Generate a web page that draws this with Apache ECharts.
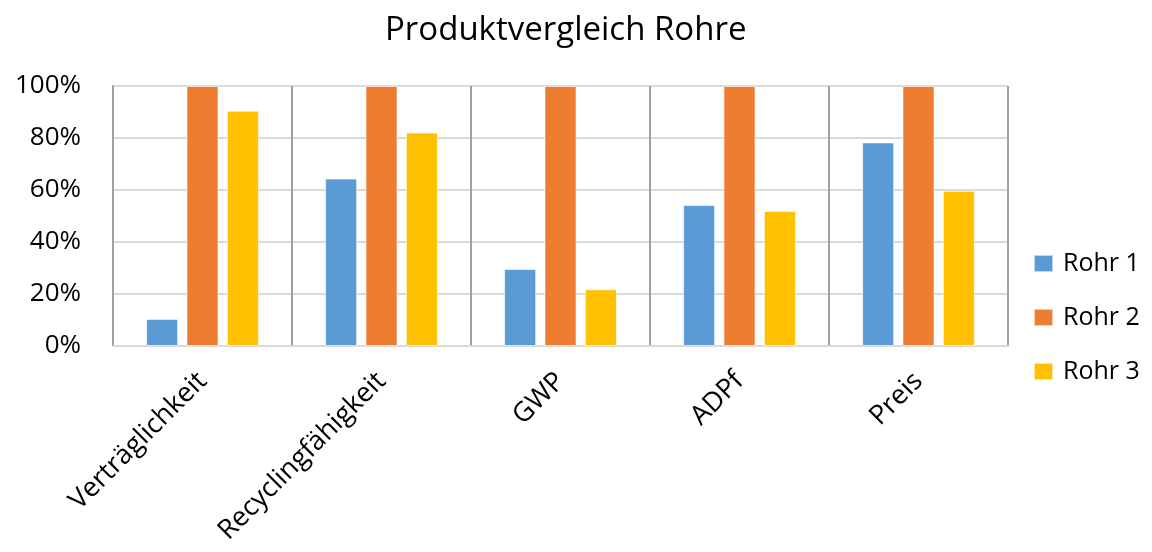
<!DOCTYPE html>
<html>
<head>
<meta charset="utf-8">
<script src="https://cdn.jsdelivr.net/npm/echarts@6/dist/echarts.min.js"></script>
<style>
  html, body { margin: 0; padding: 0; background: #fff; }
  #chart { width: 1152px; height: 552px; }
</style>
</head>
<body>
<div id="chart"></div>
<script>
// Kategorien und Werte (Anteil in %)
const categories = ['Verträglichkeit', 'Recyclingfähigkeit', 'GWP', 'ADPf', 'Preis'];
const seriesNames = ['Rohr 1', 'Rohr 2', 'Rohr 3'];
const rohr1 = [10.4, 64.4, 29.6, 54.2, 78.3];
const rohr2 = [100, 100, 100, 100, 100];
const rohr3 = [90.5, 82.1, 21.8, 51.9, 59.7];
const yTicks = [0, 20, 40, 60, 80, 100];

const colors = ['#5B9BD5', '#ED7D31', '#FFC000'];
const font = 'Open Sans, Liberation Sans, sans-serif';

const chart = echarts.init(document.getElementById('chart'));

const values = [rohr1, rohr2, rohr3];

chart.setOption({
  animation: false,
  title: {
    text: 'Produktvergleich Rohre',
    left: 380,
    top: 9,
    textStyle: { fontFamily: font, fontSize: 33, fontWeight: 'normal', color: '#000' }
  },
  legend: {
    orient: 'vertical',
    left: 1028,
    top: 246,
    itemWidth: 19,
    itemHeight: 17,
    itemGap: 29,
    icon: 'rect',
    data: seriesNames,
    textStyle: {
      fontFamily: font, fontSize: 25, lineHeight: 25, color: '#000',
      padding: [0, 0, 0, 5]
    }
  },
  grid: { left: 113, right: 144, top: 86, bottom: 206 },
  xAxis: {
    type: 'category',
    data: categories,
    axisLine: { show: true, lineStyle: { color: '#d9d9d9', width: 2 } },
    axisTick: { show: false },
    splitLine: { show: true, lineStyle: { color: '#a0a0a0', width: 2 } },
    axisLabel: {
      rotate: 45,
      interval: 0,
      margin: 31,
      fontFamily: font,
      fontSize: 27,
      color: '#000'
    }
  },
  yAxis: {
    type: 'value',
    min: yTicks[0],
    max: yTicks[yTicks.length - 1],
    interval: 20,
    axisLine: { show: true, lineStyle: { color: '#a0a0a0', width: 2 } },
    axisTick: { show: false },
    splitLine: { lineStyle: { color: '#d9d9d9', width: 2 } },
    axisLabel: {
      formatter: '{value}%',
      margin: 32,
      fontFamily: font,
      fontSize: 26,
      color: '#000'
    }
  },
  series: seriesNames.map((name, i) => ({
    name: name,
    type: 'bar',
    data: values[i],
    barGap: '26%',
    barCategoryGap: '37%',
    itemStyle: { color: colors[i], borderColor: 'rgba(255,255,255,0.6)', borderWidth: 1 }
  }))
});
</script>
</body>
</html>
